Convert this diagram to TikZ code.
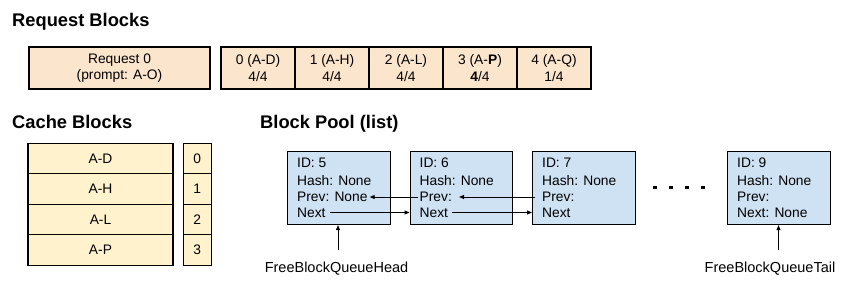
\documentclass[tikz,border=0pt]{standalone}
\usepackage{fontspec}
\setmainfont{Liberation Sans}
\usetikzlibrary{arrows.meta,calc}
\definecolor{peach}{HTML}{FCE5CD}
\definecolor{cream}{HTML}{FFF2CC}
\definecolor{lblue}{HTML}{CFE2F3}
\begin{document}
\begin{tikzpicture}[x=1bp,y=-1bp,
  title/.style={font=\fontsize{18.3bp}{21bp}\selectfont\bfseries, anchor=base west, inner sep=0pt},
  txt/.style={font=\fontsize{13.8bp}{16.5bp}\selectfont},
  reqbox/.style={draw, line width=1.1bp, fill=peach, txt, align=center, inner sep=0pt, minimum height=42bp},
  cachebox/.style={draw, line width=1.1bp, fill=cream, txt, inner sep=0pt, minimum height=30.5bp},
  poolbox/.style={draw, line width=1.1bp, fill=lblue, inner sep=0pt, minimum width=102.5bp, minimum height=73bp, anchor=north west},
  line/.style={txt, anchor=west, inner sep=2pt},
  arr/.style={-{Triangle[length=5bp,width=4bp]}, line width=0.9bp},
  dot/.style={fill=black, inner sep=0pt, minimum size=3.5bp}
]
\useasboundingbox (0,0) rectangle (864,288);
% titles
\node[title] (t1) at (12,26.7) {Request Blocks};
\node[title] (t2) at (12,128.3) {Cache Blocks};
\node[title] (t3) at (260,128.3) {Block Pool (list)};
% request blocks
\node[reqbox, minimum width=181bp] (req) at (119.5,68) {Request 0\\(prompt: A-O)};
\node[reqbox, minimum width=74bp] (b0) at (258,68) {0 (A-D)\\4/4};
\node[reqbox, minimum width=74bp] (b1) at (332,68) {1 (A-H)\\4/4};
\node[reqbox, minimum width=74bp] (b2) at (406,68) {2 (A-L)\\4/4};
\node[reqbox, minimum width=74bp] (b3) at (480,68) {3 (A-\textbf{P})\\\textbf{4}/4};
\node[reqbox, minimum width=74bp] (b4) at (554,68) {4 (A-Q)\\1/4};
% cache blocks
\node[cachebox, minimum width=145bp] (c0) at (100.5,158.6) {A-D};
\node[cachebox, minimum width=145bp] (c1) at (100.5,189.1) {A-H};
\node[cachebox, minimum width=145bp] (c2) at (100.5,219.6) {A-L};
\node[cachebox, minimum width=145bp] (c3) at (100.5,250.1) {A-P};
\node[cachebox, minimum width=28bp] (i0) at (197.3,158.6) {0};
\node[cachebox, minimum width=28bp] (i1) at (197.3,189.1) {1};
\node[cachebox, minimum width=28bp] (i2) at (197.3,219.6) {2};
\node[cachebox, minimum width=28bp] (i3) at (197.3,250.1) {3};
% block pool
\node[poolbox] (p5) at (287,151) {};
\node[poolbox] (p6) at (409.5,151) {};
\node[poolbox] (p7) at (532,151) {};
\node[poolbox] (p9) at (727,151) {};
\foreach \b/\x/\id/\pv/\nx in {p5/287/5/Prev: None/Next, p6/409.5/6/Prev:/Next, p7/532/7/Prev:/Next, p9/727/9/Prev:/Next: None}{
  \node[line] (\b id) at (\x+8,163) {ID: \id};
  \node[line] (\b hash) at (\x+8,180.5) {Hash: None};
  \node[line] (\b prev) at (\x+8,197) {\pv};
  \node[line] (\b next) at (\x+8,212.5) {\nx};
}
% links
\draw[arr] (p6prev.west) -- (p5prev.east);
\draw[arr] ([xshift=-5bp]p7prev.west) -- ([xshift=5bp]p6prev.east);
\draw[arr] ([xshift=2bp]p5next.east) -- (p5next.east -| p6.west);
\draw[arr] ([xshift=2bp]p6next.east) -- (p6next.east -| p7.west);
% dots
\node[dot] (d1) at (655,187.5) {};
\node[dot] (d2) at (671,187.5) {};
\node[dot] (d3) at (687,187.5) {};
\node[dot] (d4) at (703,187.5) {};
% head / tail
\node[txt, inner sep=0pt, font=\fontsize{14.5bp}{17bp}\selectfont] (head) at (336.5,268.5) {FreeBlockQueueHead};
\node[txt, inner sep=0pt, font=\fontsize{14.5bp}{17bp}\selectfont] (tail) at (770,268.5) {FreeBlockQueueTail};
\coordinate (hs) at (338,250);
\coordinate (ts) at (778.5,250);
\draw[arr] (hs) -- (hs |- p5.south);
\draw[arr] (ts) -- (ts |- p9.south);
\end{tikzpicture}
\end{document}
